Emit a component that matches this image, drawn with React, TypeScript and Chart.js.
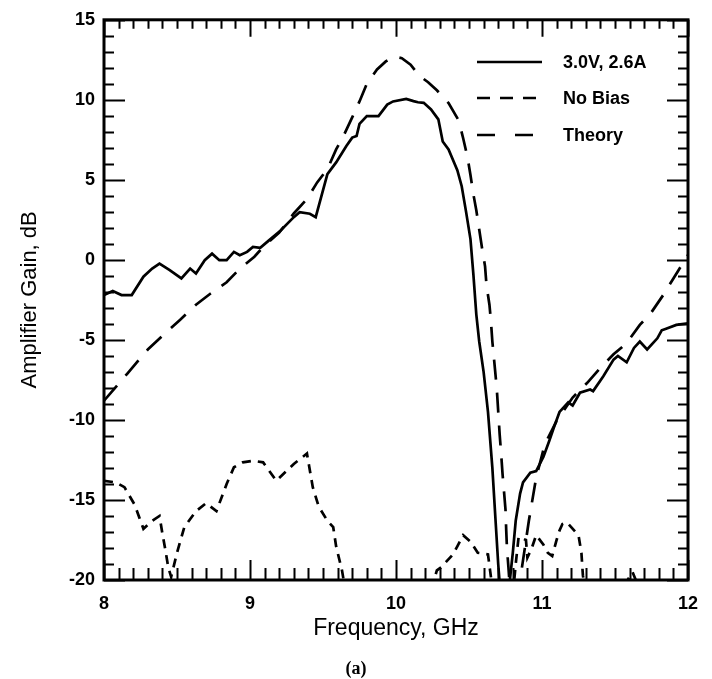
import React, { useEffect, useRef } from "react";
import { Chart, registerables } from "chart.js";

Chart.register(...registerables);

// ---------- data ----------
const seriesLabels = ["3.0V, 2.6A", "No Bias", "Theory"];

const biasFreq = [
  8.0, 8.06, 8.12, 8.19, 8.27, 8.33, 8.38, 8.45, 8.53, 8.59, 8.63, 8.69, 8.74, 8.79, 8.84, 8.89, 8.93, 8.98,
  9.02, 9.07, 9.13, 9.21, 9.3, 9.34, 9.41, 9.45, 9.53, 9.59, 9.66, 9.7, 9.73, 9.75, 9.8, 9.88, 9.94, 9.98,
  10.07, 10.12, 10.15, 10.19, 10.24, 10.29, 10.32, 10.36, 10.42, 10.45, 10.48, 10.51, 10.53, 10.55, 10.57,
  10.6, 10.63, 10.66, 10.68, 10.7, 10.71, 10.745, 10.78, 10.8, 10.82, 10.85, 10.87, 10.92, 10.96, 11.01,
  11.05, 11.08, 11.12, 11.18, 11.21, 11.26, 11.33, 11.35, 11.42, 11.49, 11.52, 11.58, 11.63, 11.67, 11.72,
  11.79, 11.82, 11.85, 11.92, 12.0,
];
const biasGain = [
  -2.2, -1.95, -2.2, -2.2, -1.05, -0.54, -0.23, -0.64, -1.16, -0.54, -0.85, -0.02, 0.39, -0.02, -0.02, 0.5, 0.29, 0.5,
  0.81, 0.75, 1.22, 1.84, 2.67, 2.98, 2.88, 2.67, 5.36, 6.09, 7.12, 7.64, 7.74, 8.5, 8.98, 8.98, 9.7, 9.9,
  10.06, 9.92, 9.85, 9.81, 9.4, 8.78, 7.4, 6.9, 5.6, 4.6, 3.0, 1.3, -0.9, -3.4, -5.1,
  -7.0, -9.5, -13, -16, -19, -20.2, -23, -20, -18.3, -16.3, -14.6, -13.9, -13.3, -13.2, -12.3,
  -11.3, -10.5, -9.5, -8.9, -9.1, -8.3, -8.1, -8.2, -7.27, -6.23, -6.0, -6.4, -5.5, -5.1, -5.6,
  -4.9, -4.4, -4.3, -4.06, -3.96,
];

const noBiasFreq = [
  8.0, 8.08, 8.14, 8.21, 8.27, 8.33, 8.38, 8.4, 8.42, 8.44, 8.46, 8.5, 8.55, 8.63, 8.7, 8.77, 8.84, 8.89,
  8.95, 9.02, 9.09, 9.18, 9.3, 9.39, 9.43, 9.47, 9.53, 9.57, 9.59, 9.63, 9.66, 9.8, 10.0, 10.2, 10.26,
  10.28, 10.31, 10.39, 10.42, 10.46, 10.51, 10.56, 10.63, 10.66, 10.72, 10.8, 10.82, 10.84, 10.89, 10.9,
  10.93, 10.96, 11.01, 11.04, 11.07, 11.1, 11.12, 11.14, 11.17, 11.2, 11.25, 11.27, 11.28, 11.3, 11.45,
  11.56, 11.62, 11.66, 11.8, 12.0,
];
const noBiasGain = [
  -13.8, -13.9, -14.2, -15.3, -16.8, -16.3, -16.0, -17.1, -18.1, -19.2, -19.8, -18.3, -16.7, -15.7, -15.2, -15.7, -14.0, -12.96,
  -12.65, -12.55, -12.65, -13.8, -12.75, -12.1, -14.2, -15.4, -16.3, -16.7, -17.9, -19.4, -21, -24, -25, -22, -20,
  -19.4, -19.2, -18.4, -17.9, -17.2, -17.6, -18.3, -18.4, -20.5, -23, -21, -19, -17.3, -17.5, -18.6,
  -18.0, -17.2, -17.8, -18.3, -18.5, -17.5, -16.9, -16.5, -16.4, -16.7, -17.2, -18.3, -19.7, -21, -23,
  -20.4, -19.5, -20.4, -23, -22,
];

const theoryFreq = [
  8.0, 8.16, 8.3, 8.43, 8.52, 8.63, 8.73, 8.84, 8.93, 9.03, 9.1, 9.2, 9.3, 9.39, 9.46, 9.53, 9.59, 9.64,
  9.7, 9.75, 9.8, 9.87, 9.93, 9.99, 10.04, 10.1, 10.16, 10.22, 10.28, 10.36, 10.43, 10.46, 10.49, 10.51,
  10.53, 10.55, 10.57, 10.59, 10.61, 10.62, 10.64, 10.65, 10.66, 10.69, 10.71, 10.72, 10.73, 10.74, 10.75,
  10.755, 10.76, 10.77, 10.78, 10.81, 10.85, 10.91, 10.96, 11.02, 11.1, 11.21, 11.31, 11.4, 11.49, 11.58,
  11.67, 11.74, 11.83, 11.9, 12.0,
];
const theoryGain = [
  -8.8, -7.1, -5.6, -4.5, -3.75, -2.8, -2.1, -1.4, -0.55, 0.2, 0.9, 1.7, 2.9, 3.8, 4.84, 5.67, 6.9, 7.74,
  8.9, 9.9, 11.0, 11.9, 12.4, 12.7, 12.6, 12.2, 11.5, 11.1, 10.6, 9.8, 8.7, 7.6, 6.4, 5.3,
  4.1, 3.1, 1.9, 0.7, -0.4, -1.6, -2.8, -3.8, -5.1, -8.0, -10.9, -12.1, -13.4, -14.5, -15.6,
  -16.9, -18.0, -19.2, -20.5, -23, -20, -16.3, -13.6, -11.5, -10.06, -8.6, -7.68, -6.75, -5.9, -5.2,
  -4.06, -3.4, -2.2, -1.16, 0.3,
];

const xTickValues = [8, 9, 10, 11, 12];
const yTickValues = [-20, -15, -10, -5, 0, 5, 10, 15];
const xTitle = "Frequency, GHz";
const yTitle = "Amplifier Gain, dB";
const panelLabel = "(a)";

const toPoints = (xs: number[], ys: number[]) => xs.map((x, i) => ({ x, y: ys[i] }));

const framePlugin = {
  id: "framePlugin",
  afterDatasetsDraw(chart: any) {
    const { ctx, chartArea } = chart;
    const xs = chart.scales.x;
    const ys = chart.scales.y;
    const { left, right, top, bottom } = chartArea;
    ctx.save();
    ctx.strokeStyle = "#000";
    ctx.lineCap = "butt";
    ctx.lineWidth = 2;
    ctx.beginPath();
    for (let i = 0; i <= 40; i++) {
      const v = 8 + i * 0.1;
      const px = Math.round(xs.getPixelForValue(v)) + 0.5;
      const major = i % 10 === 0;
      const lb = major ? 20 : 12;
      const lt = major ? 17 : 9;
      ctx.moveTo(px, bottom);
      ctx.lineTo(px, bottom - lb);
      ctx.moveTo(px, top);
      ctx.lineTo(px, top + lt);
    }
    for (let v = -20; v <= 15; v++) {
      const py = Math.round(ys.getPixelForValue(v)) + 0.5;
      const major = v % 5 === 0;
      const l = major ? 21 : 10;
      ctx.moveTo(left, py);
      ctx.lineTo(left + l, py);
      ctx.moveTo(right, py);
      ctx.lineTo(right - l, py);
    }
    ctx.stroke();
    ctx.lineWidth = 3;
    ctx.strokeRect(left, top, right - left, bottom - top);
    ctx.restore();
  },
  afterDraw(chart: any) {
    const { ctx } = chart;
    ctx.save();
    const rows = [62, 98, 135];
    chart.data.datasets.forEach((ds: any, i: number) => {
      const y = rows[i];
      ctx.strokeStyle = "#000";
      ctx.lineWidth = ds.borderWidth;
      ctx.setLineDash(ds.legendDash || []);
      ctx.beginPath();
      ctx.moveTo(477, y);
      ctx.lineTo(542, y);
      ctx.stroke();
      ctx.setLineDash([]);
      ctx.fillStyle = "#000";
      ctx.font = "bold 18px 'Liberation Sans', Arial, sans-serif";
      ctx.textBaseline = "middle";
      ctx.textAlign = "left";
      ctx.fillText(ds.label, 563, y + 1);
    });
    ctx.font = "bold 18px 'Liberation Serif', serif";
    ctx.textAlign = "center";
    ctx.textBaseline = "middle";
    ctx.fillText(panelLabel, 356, 669);
    ctx.restore();
  },
};

export default function App() {
  const ref = useRef<HTMLCanvasElement | null>(null);

  useEffect(() => {
    if (!ref.current) return;
    const chart = new Chart(ref.current, {
      type: "line",
      data: {
        datasets: [
          {
            label: seriesLabels[0],
            data: toPoints(biasFreq, biasGain),
            borderColor: "#000",
            borderWidth: 2.7,
            pointRadius: 0,
            tension: 0,
            fill: false,
            legendDash: [],
          } as any,
          {
            label: seriesLabels[1],
            data: toPoints(noBiasFreq, noBiasGain),
            borderColor: "#000",
            borderWidth: 2.7,
            borderDash: [9, 7],
            pointRadius: 0,
            tension: 0,
            fill: false,
            legendDash: [13, 10],
          } as any,
          {
            label: seriesLabels[2],
            data: toPoints(theoryFreq, theoryGain),
            borderColor: "#000",
            borderWidth: 2.7,
            borderDash: [20, 13],
            pointRadius: 0,
            tension: 0,
            fill: false,
            legendDash: [18, 20],
          } as any,
        ],
      },
      options: {
        animation: false,
        responsive: false,
        devicePixelRatio: 1,
        layout: { padding: { top: 17, right: 24, left: 0, bottom: 0 } },
        plugins: {
          legend: { display: false },
          tooltip: { enabled: false },
        },
        scales: {
          x: {
            type: "linear",
            min: 8,
            max: 12,
            afterBuildTicks: (s: any) => {
              s.ticks = xTickValues.map((v) => ({ value: v }));
            },
            afterFit: (s: any) => {
              s.height = 99;
            },
            grid: { display: false, drawTicks: false },
            border: { display: false },
            ticks: {
              color: "#000",
              padding: 13,
              maxRotation: 0,
              font: { family: "'Liberation Sans', Arial, sans-serif", size: 18, weight: "bold" },
            },
            title: {
              display: true,
              text: xTitle,
              color: "#000",
              font: { family: "'Liberation Sans', Arial, sans-serif", size: 23 },
              padding: { top: 0, bottom: 37 },
            },
          },
          y: {
            type: "linear",
            min: -20,
            max: 15,
            afterBuildTicks: (s: any) => {
              s.ticks = yTickValues.map((v) => ({ value: v }));
            },
            afterFit: (s: any) => {
              s.width = 104;
            },
            grid: { display: false, drawTicks: false },
            border: { display: false },
            ticks: {
              color: "#000",
              padding: 9,
              font: { family: "'Liberation Sans', Arial, sans-serif", size: 18, weight: "bold" },
            },
            title: {
              display: true,
              text: yTitle,
              color: "#000",
              font: { family: "'Liberation Sans', Arial, sans-serif", size: 22 },
              padding: { top: 17, bottom: 0 },
            },
          },
        },
      } as any,
      plugins: [framePlugin],
    });
    return () => chart.destroy();
  }, []);

  return (
    <div style={{ position: "fixed", left: 0, top: 0, width: 712, height: 679, background: "#fff" }}>
      <canvas ref={ref} width={712} height={679} style={{ width: 712, height: 679, display: "block" }} />
    </div>
  );
}
